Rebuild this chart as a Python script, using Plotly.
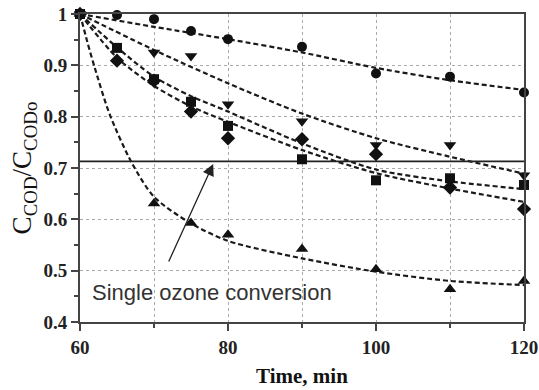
import plotly.graph_objects as go

# measured data
t = [60, 65, 70, 75, 80, 90, 100, 110, 120]
circles = [1.0, 0.998, 0.99, 0.967, 0.951, 0.936, 0.884, 0.878, 0.847]
tri_down = [1.0, None, 0.925, 0.918, 0.824, 0.791, 0.745, 0.745, 0.686]
squares = [1.0, 0.934, 0.873, 0.829, 0.782, 0.717, 0.676, 0.68, 0.667]
diamonds = [1.0, 0.909, 0.87, 0.81, 0.758, 0.756, 0.727, 0.662, 0.62]
tri_up = [1.0, None, 0.631, 0.593, 0.57, 0.542, 0.503, 0.464, 0.48]

# fitted curves
fit_t = [60, 70, 80, 90, 100, 110, 120]
fit_circles = [1.0, 0.975, 0.951, 0.925, 0.895, 0.871, 0.852]
fit_tri_down = [1.0, 0.93, 0.865, 0.806, 0.758, 0.722, 0.689]
fit_sq_t = [60, 65, 70, 75, 80, 90, 100, 110, 120]
fit_squares = [1.0, 0.935, 0.878, 0.84, 0.81, 0.748, 0.697, 0.674, 0.659]
fit_diamonds = [1.0, 0.915, 0.86, 0.82, 0.79, 0.735, 0.69, 0.66, 0.634]
fit_up_t = [60, 61, 62, 64, 67, 70, 75, 80, 90, 100, 110, 120]
fit_tri_up = [1.0, 0.945, 0.895, 0.805, 0.71, 0.644, 0.592, 0.558, 0.524, 0.498, 0.48, 0.472]

single_ozone_level = 0.713

fig = go.Figure()

dash_line = dict(color="#1a1a1a", width=2.2, dash="5px,3px", shape="spline", smoothing=0.8)
for fx, fy in [(fit_t, fit_circles), (fit_t, fit_tri_down), (fit_sq_t, fit_squares),
               (fit_sq_t, fit_diamonds), (fit_up_t, fit_tri_up)]:
    fig.add_trace(go.Scatter(x=fx, y=fy, mode="lines", line=dash_line,
                             hoverinfo="skip", cliponaxis=False))

fig.add_trace(go.Scatter(x=[60, 120], y=[single_ozone_level] * 2, mode="lines",
                         line=dict(color="#222", width=1.8)))

for ys, sym, sz in [(circles, "circle", 10), (tri_down, "triangle-down", 11),
                    (squares, "square", 10), (diamonds, "diamond", 11),
                    (tri_up, "triangle-up", 11)]:
    fig.add_trace(go.Scatter(x=t, y=ys, mode="markers", cliponaxis=False,
                             marker=dict(symbol=sym, size=sz, color="#111")))

fig.add_annotation(x=78, y=0.708, ax=71.9, ay=0.515, xref="x", yref="y",
                   axref="x", ayref="y", text="", showarrow=True,
                   arrowhead=2, arrowsize=1.8, arrowwidth=1.3, arrowcolor="#222")
fig.add_annotation(x=61.3, y=0.457, xref="x", yref="y", text="Single ozone conversion",
                   showarrow=False, xanchor="left", yanchor="middle",
                   font=dict(family="Liberation Sans", size=22, color="#333"))

tickfont = dict(family="Liberation Serif", size=19, color="#222", weight="bold")
fig.update_xaxes(range=[60, 120], dtick=20, tick0=60, ticks="outside", ticklen=7,
                 tickwidth=1.5, tickcolor="#444", showline=True, linecolor="#444",
                 linewidth=2, mirror=True, showgrid=True, gridcolor="#aaa",
                 griddash="dot", gridwidth=1, zeroline=False, tickfont=tickfont,
                 automargin=False,
                 minor=dict(dtick=10, ticks="outside", ticklen=4, tickcolor="#444",
                            showgrid=True, gridcolor="#aaa", griddash="dot"),
                 title=dict(text="Time, min", standoff=12,
                            font=dict(family="Liberation Serif", size=21, color="#111",
                                      weight="bold")))
fig.update_yaxes(range=[0.4, 1.0], dtick=0.1, tick0=0.4, ticks="outside", ticklen=7,
                 tickwidth=1.5, tickcolor="#444", showline=True, linecolor="#444",
                 linewidth=2, mirror=True, showgrid=True, gridcolor="#aaa",
                 griddash="dot", gridwidth=1, zeroline=False, tickfont=tickfont,
                 automargin=False,
                 minor=dict(dtick=0.05, ticks="outside", ticklen=4, tickcolor="#444",
                            showgrid=False),
                 title=dict(text="C<sub>COD</sub>/C<sub>CODo</sub>", standoff=4,
                            font=dict(family="Liberation Serif", size=27, color="#111")))

fig.update_layout(width=539, height=390, margin=dict(l=80, r=15, t=14, b=68),
                  plot_bgcolor="white", paper_bgcolor="white", showlegend=False)

fig.write_html("out.html")
